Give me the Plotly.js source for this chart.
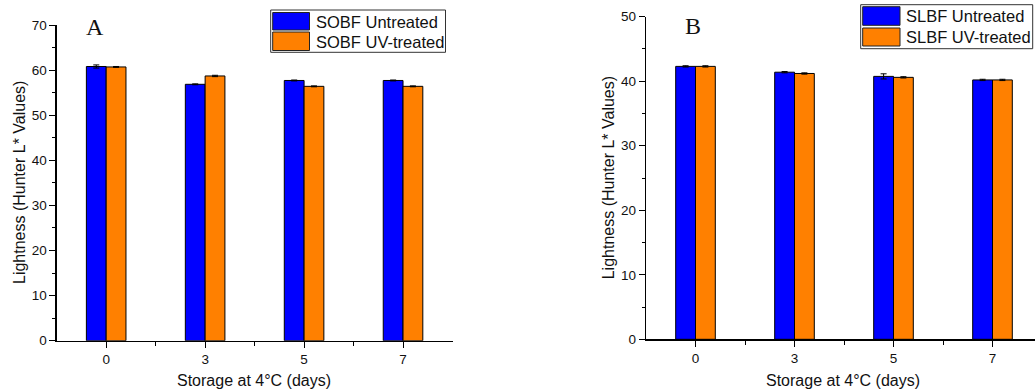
<!DOCTYPE html>
<html><head><meta charset="utf-8">
<script src="https://cdn.plot.ly/plotly-3.0.1.min.js"></script>
<style>html,body{margin:0;padding:0;background:#fff}#c{width:1035px;height:391px}</style>
</head><body><div id="c"></div>
<script>
const days = ['0', '3', '5', '7'];
const sobfUntreated = [60.8, 56.85, 57.7, 57.7];
const sobfUntreatedErr = [0.35, 0.1, 0.1, 0.1];
const sobfUV = [60.7, 58.7, 56.4, 56.4];
const sobfUVErr = [0.1, 0.15, 0.1, 0.1];
const slbfUntreated = [42.3, 41.4, 40.75, 40.2];
const slbfUntreatedErr = [0.1, 0.1, 0.4, 0.1];
const slbfUV = [42.3, 41.2, 40.6, 40.2];
const slbfUVErr = [0.1, 0.1, 0.1, 0.1];
const legendA = ['SOBF Untreated', 'SOBF UV-treated'];
const legendB = ['SLBF Untreated', 'SLBF UV-treated'];

const W = 1035, H = 391;
const px = x => x / W, py = y => 1 - y / H;
const BLUE = '#0000FF', ORANGE = '#FF8000';
const FONT = 'Liberation Sans, Arial, sans-serif';
const idx = days.map((d, i) => i);

function bar(y, err, color, xa, ya, name) {
  return {type: 'bar', x: idx, y: y, name: name, xaxis: xa, yaxis: ya, width: 0.2,
    marker: {color: color, line: {color: '#000', width: 1}},
    error_y: {type: 'data', array: err, visible: true, color: '#000', thickness: 1, width: 3},
    showlegend: false, hoverinfo: 'skip'};
}

const data = [
  bar(sobfUntreated, sobfUntreatedErr, BLUE, 'x', 'y', legendA[0]),
  bar(sobfUV, sobfUVErr, ORANGE, 'x', 'y', legendA[1]),
  bar(slbfUntreated, slbfUntreatedErr, BLUE, 'x2', 'y2', legendB[0]),
  bar(slbfUV, slbfUVErr, ORANGE, 'x2', 'y2', legendB[1])
];

function xaxis(d0, d1, anchor, rmax) {
  return {domain: [d0, d1], anchor: anchor, range: [-0.5, rmax], tickmode: 'array', tickvals: idx, ticktext: days,
    showline: true, linecolor: '#000', linewidth: 1.3, ticks: 'outside', ticklen: 6, tickcolor: '#000', tickwidth: 1,
    showgrid: false, zeroline: false, fixedrange: true, automargin: false,
    tickfont: {family: FONT, size: 13.5, color: '#111'},
    minor: {tickmode: 'array', tickvals: [0.5, 1.5, 2.5], ticks: 'outside', ticklen: 4, tickcolor: '#000', showgrid: false}};
}
function yaxis(d0, d1, anchor, rmax) {
  return {domain: [d0, d1], anchor: anchor, range: [0, rmax], dtick: 10, tick0: 0,
    showline: true, linecolor: '#000', linewidth: 1.3, ticks: 'outside', ticklen: 6, tickcolor: '#000', tickwidth: 1,
    showgrid: false, zeroline: false, fixedrange: true, automargin: false,
    tickfont: {family: FONT, size: 13.5, color: '#111'},
    minor: {dtick: 5, tick0: 0, ticks: 'outside', ticklen: 3, tickcolor: '#000', showgrid: false}};
}

function legendShapes(bx0, by0, bx1, by1, sx0, sx1, s1y0, s1y1, s2y0, s2y1) {
  return [
    {type: 'rect', xref: 'paper', yref: 'paper', x0: px(bx0), x1: px(bx1), y0: py(by1), y1: py(by0),
      line: {color: '#333', width: 1}, fillcolor: '#fff'},
    {type: 'rect', xref: 'paper', yref: 'paper', x0: px(sx0), x1: px(sx1), y0: py(s1y1), y1: py(s1y0),
      line: {color: '#222', width: 1}, fillcolor: BLUE},
    {type: 'rect', xref: 'paper', yref: 'paper', x0: px(sx0), x1: px(sx1), y0: py(s2y1), y1: py(s2y0),
      line: {color: '#222', width: 1}, fillcolor: ORANGE}
  ];
}

const shapes = [
  ...legendShapes(270.7, 10, 445.5, 52.3, 272.7, 309.5, 12.5, 30, 32, 50.5),
  ...legendShapes(860.7, 4.7, 1032.7, 48.7, 862.7, 900, 6.7, 25.3, 28, 46)
];

function ann(text, x, y, size, opts) {
  return Object.assign({text: text, xref: 'paper', yref: 'paper', x: px(x), y: py(y), showarrow: false,
    xanchor: 'center', yanchor: 'middle', font: {family: FONT, size: size, color: '#111'}}, opts || {});
}

const annotations = [
  ann('Lightness (Hunter L* Values)', 19.5, 182.5, 16, {textangle: -90}),
  ann('Storage at 4°C (days)', 254, 380, 16),
  ann('Lightness (Hunter L* Values)', 608.3, 178, 16, {textangle: -90}),
  ann('Storage at 4°C (days)', 843.3, 380, 16),
  ann('A', 95, 27, 24, {font: {family: 'Liberation Serif, Times New Roman, serif', size: 24, color: '#111'}}),
  ann('B', 693, 26, 24, {font: {family: 'Liberation Serif, Times New Roman, serif', size: 24, color: '#111'}}),
  ann(legendA[0], 313.5, 21.5, 16.5, {xanchor: 'left'}),
  ann(legendA[1], 313.5, 41.5, 16.5, {xanchor: 'left'}),
  ann(legendB[0], 904, 16, 16.5, {xanchor: 'left'}),
  ann(legendB[1], 904, 37, 16.5, {xanchor: 'left'})
];

const layout = {
  width: W, height: H, margin: {l: 0, r: 0, t: 0, b: 0}, paper_bgcolor: '#fff', plot_bgcolor: '#fff',
  barmode: 'group', bargap: 0.6, bargroupgap: 0, showlegend: false,
  xaxis: xaxis(px(56.7), px(452.5), 'y', 3.5),
  yaxis: yaxis(py(340.7), py(25), 'x', 70),
  xaxis2: xaxis(px(646), 1, 'y2', (1035 - 646) / 99 - 0.5),
  yaxis2: yaxis(py(339.3), py(16.7), 'x2', 50),
  shapes: shapes, annotations: annotations
};

Plotly.newPlot('c', data, layout, {displayModeBar: false, staticPlot: true});
</script></body></html>
